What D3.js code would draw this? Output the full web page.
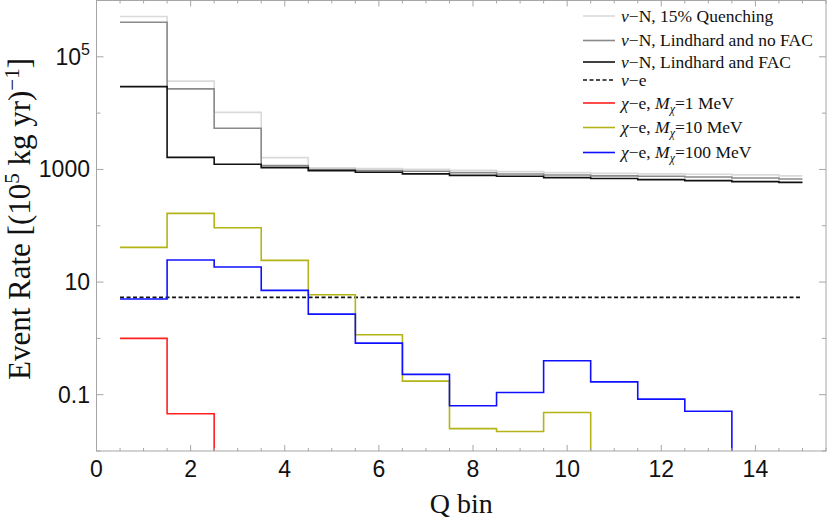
<!DOCTYPE html>
<html lang="en">
<head>
<meta charset="UTF-8">
<title>Q bin event rates</title>
<script src="https://d3js.org/d3.v7.min.js"></script>
<style>
    body { margin: 0; background: #fff; }
    svg { display: block; }
    .tick-label { font-family: "Liberation Sans", Arial, sans-serif; font-size: 23px; fill: #111; }
    .title { font-family: "Liberation Serif", "Times New Roman", serif; fill: #111; }
    .legend text { font-family: "Liberation Serif", "Times New Roman", serif; font-size: 17.5px; fill: #111; }
</style>
</head>
<body>
<div class="chart"></div>
<script>
    // Q bins 1..15, each bin drawn from bin-0.5 to bin+0.5 (last one stops at 15)
    var bins = [1, 2, 3, 4, 5, 6, 7, 8, 9, 10, 11, 12, 13, 14, 15];

    var nuNQuench = [5.2e5, 3.7e4, 1.03e4, 1620, 1064, 1032, 1010, 965, 915, 878, 850, 835, 820, 800, 770];
    var nuNNoFac = [4.1e5, 2.7e4, 5380, 1170, 993, 953, 927, 878, 832, 799, 770, 755, 736, 706, 678];
    var nuNFac = [2.96e4, 1640, 1233, 1076, 952, 889, 835, 786, 755, 715, 690, 659, 632, 607, 590];
    var nuE = [5.34, 5.34, 5.34, 5.34, 5.34, 5.34, 5.34, 5.34, 5.34, 5.34, 5.34, 5.34, 5.34, 5.34, 5.34];
    // values under the bottom of the frame (< 0.01) are written as 0.001
    var chi1 = [1.0, 0.046, 0.001, 0.001, 0.001, 0.001, 0.001, 0.001, 0.001, 0.001, 0.001, 0.001, 0.001, 0.001, 0.001];
    var chi10 = [41.3, 166, 92.4, 24.3, 5.96, 1.16, 0.174, 0.025, 0.0222, 0.0483, 0.001, 0.001, 0.001, 0.001, 0.001];
    var chi100 = [4.99, 24.6, 18.5, 7.11, 2.70, 0.824, 0.229, 0.0635, 0.1096, 0.40, 0.169, 0.0834, 0.0509, 0.001, 0.001];

    var xTicks = [0, 2, 4, 6, 8, 10, 12, 14];
    var yTicks = [0.01, 0.1, 1, 10, 100, 1000, 1e4, 1e5, 1e6];
    var yLabelled = [0.1, 10, 1000, 1e5];

    var width = 830;
    var height = 522;
    var padL = 96.5, padR = 826, padT = 0.5, padB = 451;

    var svg = d3.select('.chart')
        .append('svg')
        .attr('width', width)
        .attr('height', height);

    var x = d3.scaleLinear().domain([0, 15.5]).range([padL, padR]);
    var y = d3.scaleLog().domain([0.01, 1e6]).range([padB, padT]);

    svg.append('clipPath').attr('id', 'plotclip')
        .append('rect')
        .attr('x', padL).attr('y', padT)
        .attr('width', padR - padL).attr('height', padB - padT);

    var series = [
        { name: 'quench', values: nuNQuench, color: '#dadada', dash: null },
        { name: 'nofac', values: nuNNoFac, color: '#8a8a8a', dash: null },
        { name: 'fac', values: nuNFac, color: '#111111', dash: null },
        { name: 'nue', values: nuE, color: '#111111', dash: '4,2.5' },
        { name: 'chi1', values: chi1, color: '#ff2020', dash: null },
        { name: 'chi10', values: chi10, color: '#b4b416', dash: null },
        { name: 'chi100', values: chi100, color: '#1010ff', dash: null }
    ];

    function stepPoints(values) {
        var pts = bins.map(function (b, i) { return [b - 0.5, values[i]]; });
        pts.push([15, values[values.length - 1]]);
        return pts;
    }

    var line = d3.line()
        .x(function (d) { return x(d[0]); })
        .y(function (d) { return y(d[1]); })
        .curve(d3.curveStepAfter);

    var plot = svg.append('g').attr('clip-path', 'url(#plotclip)');
    series.forEach(function (s) {
        plot.append('path')
            .attr('d', line(stepPoints(s.values)))
            .attr('fill', 'none')
            .attr('stroke', s.color)
            .attr('stroke-width', 1.6)
            .attr('stroke-dasharray', s.dash);
    });

    // frame with ticks on all four sides (Mathematica style)
    var axisColor = '#a6a6a6';
    svg.append('rect')
        .attr('x', padL).attr('y', padT)
        .attr('width', padR - padL).attr('height', padB - padT)
        .attr('fill', 'none').attr('stroke', axisColor).attr('stroke-width', 1);

    var xMinor = d3.range(0, 15.51, 0.5);
    var tickG = svg.append('g').attr('stroke', axisColor).attr('stroke-width', 1);
    xMinor.forEach(function (t) {
        var len = (t % 2 === 0) ? 6 : 3;
        tickG.append('line').attr('x1', x(t)).attr('x2', x(t)).attr('y1', padB).attr('y2', padB - len);
        tickG.append('line').attr('x1', x(t)).attr('x2', x(t)).attr('y1', padT).attr('y2', padT + len);
    });
    yTicks.forEach(function (t) {
        var len = yLabelled.indexOf(t) >= 0 ? 7 : 4;
        tickG.append('line').attr('x1', padL).attr('x2', padL + len).attr('y1', y(t)).attr('y2', y(t));
        tickG.append('line').attr('x1', padR).attr('x2', padR - len).attr('y1', y(t)).attr('y2', y(t));
    });

    xTicks.forEach(function (t) {
        svg.append('text')
            .attr('class', 'tick-label')
            .attr('x', x(t)).attr('y', padB + 26)
            .attr('text-anchor', 'middle')
            .text(t);
    });

    yLabelled.forEach(function (t) {
        var lab = svg.append('text')
            .attr('class', 'tick-label')
            .attr('x', 90).attr('y', y(t) + 8)
            .attr('text-anchor', 'end');
        if (t === 1e5) {
            lab.append('tspan').text('10');
            lab.append('tspan').attr('dy', -10).attr('font-size', 16).text('5');
        } else {
            lab.text(t);
        }
    });

    // axis titles
    svg.append('text')
        .attr('class', 'title')
        .attr('x', (padL + padR) / 2).attr('y', 513)
        .attr('text-anchor', 'middle')
        .attr('font-size', 28)
        .text('Q bin');

    var yt = svg.append('text')
        .attr('class', 'title')
        .attr('transform', 'translate(30,' + 219 + ') rotate(-90)')
        .attr('text-anchor', 'middle')
        .attr('font-size', 31);
    yt.append('tspan').text('Event Rate [(10');
    yt.append('tspan').attr('dy', -11).attr('font-size', 21).text('5');
    yt.append('tspan').attr('dy', 11).text(' kg yr)');
    yt.append('tspan').attr('dy', -11).attr('font-size', 21).text('\u22121');
    yt.append('tspan').attr('dy', 11).text(']');

    // legend
    var legendRows = [16, 40.5, 62, 80, 103, 127.5, 152.5];
    var legend = svg.append('g').attr('class', 'legend');
    function addLabel(t, parts) {
        parts.forEach(function (p) {
            var sp = t.append('tspan').text(p.t);
            if (p.i) sp.attr('font-style', 'italic');
            if (p.sub) sp.attr('font-size', 12).attr('dy', 4);
            if (p.up) sp.attr('dy', -4);
        });
    }
    var labels = [
        [{ t: '\u03bd', i: true }, { t: '\u2212N, 15% Quenching' }],
        [{ t: '\u03bd', i: true }, { t: '\u2212N, Lindhard and no FAC' }],
        [{ t: '\u03bd', i: true }, { t: '\u2212N, Lindhard and FAC' }],
        [{ t: '\u03bd', i: true }, { t: '\u2212e' }],
        [{ t: '\u03c7', i: true }, { t: '\u2212e, ' }, { t: 'M', i: true }, { t: '\u03c7', i: true, sub: true }, { t: '=1 MeV', up: true }],
        [{ t: '\u03c7', i: true }, { t: '\u2212e, ' }, { t: 'M', i: true }, { t: '\u03c7', i: true, sub: true }, { t: '=10 MeV', up: true }],
        [{ t: '\u03c7', i: true }, { t: '\u2212e, ' }, { t: 'M', i: true }, { t: '\u03c7', i: true, sub: true }, { t: '=100 MeV', up: true }]
    ];
    series.forEach(function (s, i) {
        var ry = legendRows[i];
        legend.append('line')
            .attr('x1', 583).attr('x2', 615)
            .attr('y1', ry).attr('y2', ry)
            .attr('stroke', s.color)
            .attr('stroke-width', 1.6)
            .attr('stroke-dasharray', s.dash);
        var t = legend.append('text').attr('x', 621).attr('y', ry + 5.5);
        addLabel(t, labels[i]);
    });
</script>
</body>
</html>
